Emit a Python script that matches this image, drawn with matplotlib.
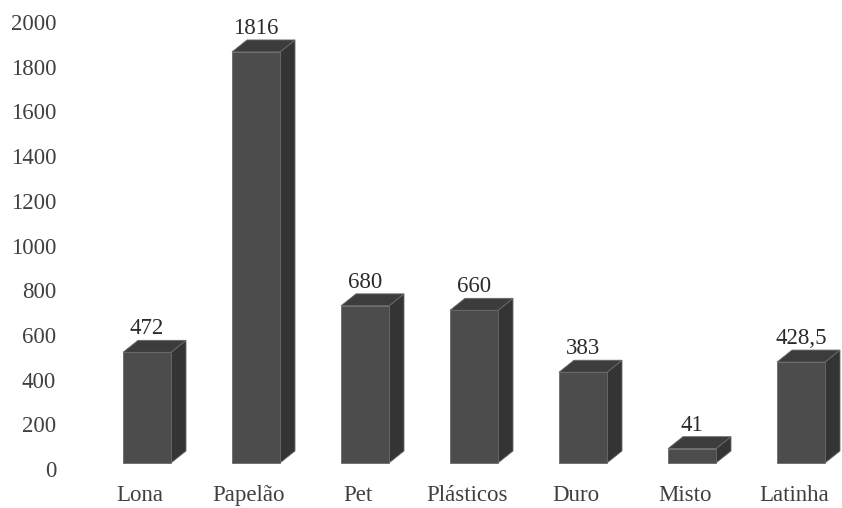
import matplotlib
matplotlib.use("Agg")
import matplotlib.pyplot as plt
from matplotlib.patches import Polygon

categories = ["Lona", "Papelão", "Pet", "Plásticos", "Duro", "Misto", "Latinha"]
values = [472, 1816, 680, 660, 383, 41, 428.5]
value_labels = ["472", "1816", "680", "660", "383", "41", "428,5"]
yticks = [0, 200, 400, 600, 800, 1000, 1200, 1400, 1600, 1800, 2000]

plt.rcParams['font.family'] = ['Liberation Serif', 'DejaVu Serif']

W, H, DPI = 842, 508, 100
fig = plt.figure(figsize=(W / DPI, H / DPI), dpi=DPI)
fig.patch.set_facecolor('white')

# axes geometry in pixels
ax_left, ax_right, ax_top, ax_bottom = 70, 842, 0, 478
ax = fig.add_axes([ax_left / W, (H - ax_bottom) / H, (ax_right - ax_left) / W, (ax_bottom - ax_top) / H])

px_per_x = 109.0
x0_px = 140.0
px_per_y = 0.2235
y0_px = 469.0
ax.set_xlim((ax_left - x0_px) / px_per_x, (ax_right - x0_px) / px_per_x)
ax.set_ylim((y0_px - ax_bottom) / px_per_y, (y0_px - ax_top) / px_per_y)

# 3D-look styling parameters
bar_w = 48 / px_per_x
x_shift = 7 / px_per_x
dx = 15 / px_per_x
dy = 12 / px_per_y
base = 27
top_extra = 50
front_c = '#4c4c4c'
top_c = '#3c3c3c'
side_c = '#343434'
edge_c = '#6a6a6a'
fs = 16.5

xs = [i + x_shift for i in range(len(categories))]
heights = [v + top_extra - base for v in values]
bars = ax.bar(xs, heights, width=bar_w, bottom=base, color=front_c,
              edgecolor=edge_c, linewidth=0.6, zorder=3)

for rect, v, lab in zip(bars, values, value_labels):
    xl = rect.get_x()
    xr = xl + rect.get_width()
    top = rect.get_y() + rect.get_height()
    bot = rect.get_y()
    side = Polygon([(xr, top), (xr + dx, top + dy), (xr + dx, bot + dy), (xr, bot)],
                   closed=True, facecolor=side_c, edgecolor=edge_c, linewidth=0.6, zorder=2)
    topf = Polygon([(xl, top), (xl + dx, top + dy), (xr + dx, top + dy), (xr, top)],
                   closed=True, facecolor=top_c, edgecolor=edge_c, linewidth=0.6, zorder=4)
    ax.add_patch(side)
    ax.add_patch(topf)
    ax.text((xl + xr) / 2, top + dy + 4, lab, ha='center', va='bottom',
            fontsize=fs, color='#2a2a2a', zorder=5)

ax.set_xticks(range(len(categories)))
ax.set_xticklabels(categories)
ax.set_yticks(yticks)
ax.set_yticklabels([str(t) for t in yticks])
ax.tick_params(axis='both', length=0, labelsize=fs, colors='#404040')
ax.tick_params(axis='y', pad=10)
ax.tick_params(axis='x', pad=5)
for s in ax.spines.values():
    s.set_visible(False)
ax.set_facecolor('white')

fig.savefig("out.png", dpi=DPI, facecolor='white')
